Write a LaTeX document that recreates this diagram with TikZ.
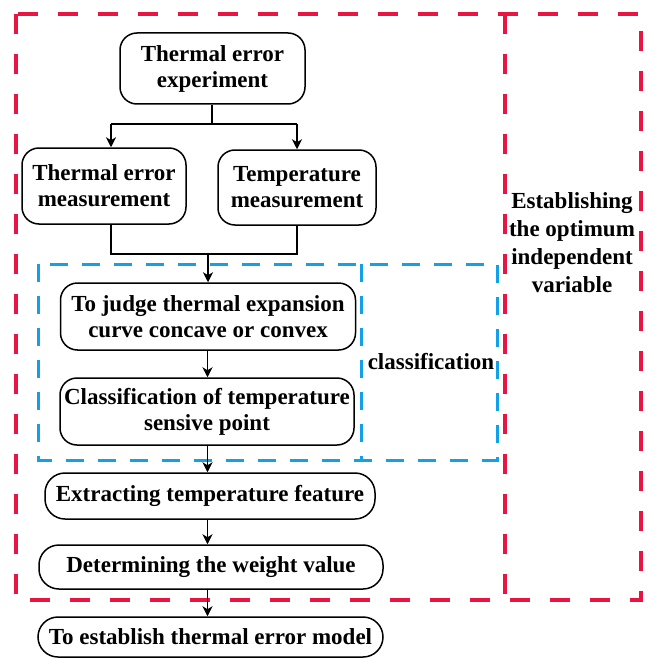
\documentclass[tikz,border=0pt]{standalone}
\usepackage{fontspec}
\setmainfont{Liberation Serif}
\usetikzlibrary{arrows.meta}
\definecolor{dred}{RGB}{232,20,68}
\definecolor{dblue}{RGB}{20,160,230}
\begin{document}
\begin{tikzpicture}[x=1pt,y=1pt,
  box/.style={draw=black, line width=1.5pt, rounded corners=17pt, align=center, inner sep=1pt,
    font=\fontsize{23}{26}\selectfont\bfseries},
  pill/.style={box, rounded corners=20pt},
  arr/.style={line width=1.3pt, -{Stealth[length=10pt,width=10pt,inset=3pt]}},
  ln/.style={line width=1.3pt},
  reddash/.style={draw=dred, line width=4pt, dash pattern=on 20pt off 20pt},
  bluedash/.style={draw=dblue, line width=3pt, dash pattern=on 18pt off 14pt},
  lbl/.style={align=center, font=\fontsize{23}{28}\selectfont\bfseries}]
\useasboundingbox (0,0) rectangle (648,-658);

% dashed regions
\draw[reddash] (16,-14) rectangle (641,-600);
\draw[reddash] (505,-14) -- (505,-600);
\draw[bluedash] (38,-264) rectangle (497,-460);
\draw[bluedash] (361,-264) -- (361,-460);

% nodes
\node[box, minimum width=185pt, minimum height=71pt] (exp) at (212.5,-68.5) {Thermal error\\experiment};
\node[box, minimum width=164pt, minimum height=76pt] (tem) at (104,-186) {Thermal error\\measurement};
\node[box, minimum width=158pt, minimum height=75pt] (tpm) at (297,-187.5) {Temperature\\measurement};
\node[box, minimum width=295pt, minimum height=67pt] (judge) at (208,-316.5) {To judge thermal expansion\\curve concave or convex};
\node[box, minimum width=294pt, minimum height=67pt] (cls) at (207,-411.5) {Classification of temperature\\sensive point};
\node[pill, minimum width=330pt, minimum height=46pt] (ext) at (210,-496) {Extracting temperature feature};
\node[pill, minimum width=344pt, minimum height=44pt] (det) at (211,-567) {Determining the weight value};
\node[pill, minimum width=345pt, minimum height=40pt] (est) at (210.5,-637) {To establish thermal error model};

\node[lbl] (clab) at (431,-362) {classification};
\node[lbl] (elab) at (572,-243) {Establishing\\the optimum\\independent\\variable};

% branch
\coordinate (bL) at (111,-124);
\coordinate (bR) at (297,-124);
\coordinate (bC) at (212,-124);
\draw[ln] (exp.south -| bC) -- (bC);
\draw[ln] (bL) -- (bR);
\draw[arr] (bL) -- (bL |- tem.north);
\draw[arr] (bR) -- (bR |- tpm.north);

% merge
\coordinate (mL) at (111,-254);
\coordinate (mR) at (297,-254);
\coordinate (mC) at (208,-254);
\draw[ln] (mL |- tem.south) -- (mL) -- (mR) -- (mR |- tpm.south);
\draw[arr] (mC) -- (mC |- judge.north);

% chain
\coordinate (cx) at (207.5,0);
\draw[arr] (cx |- judge.south) -- (cx |- cls.north);
\draw[arr] (cx |- cls.south) -- (cx |- ext.north);
\draw[arr] (cx |- ext.south) -- (cx |- det.north);
\draw[arr] (cx |- det.south) -- (cx |- est.north);
\end{tikzpicture}
\end{document}
